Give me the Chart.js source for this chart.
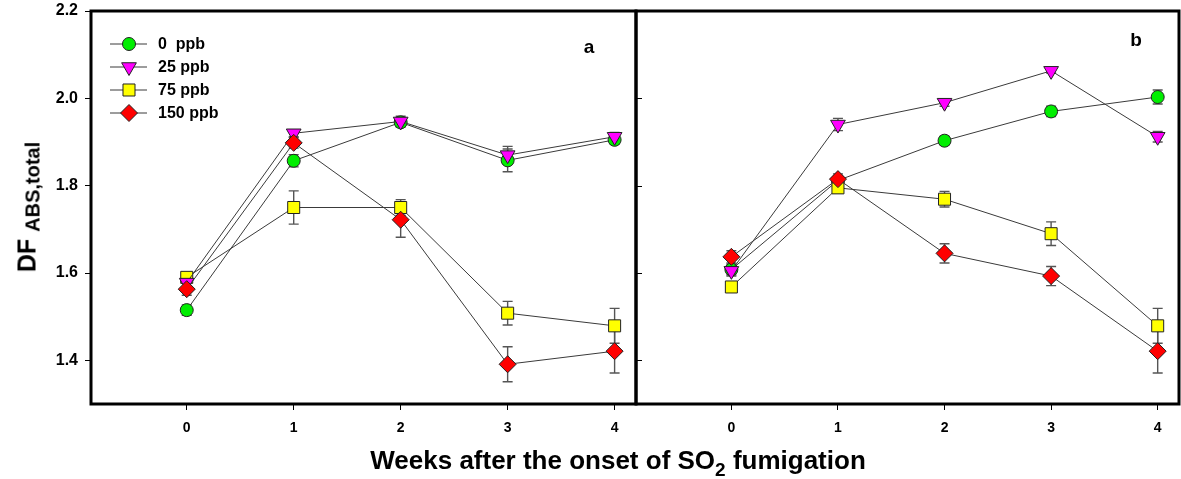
<!DOCTYPE html>
<html><head><meta charset="utf-8">
<script src="https://cdn.jsdelivr.net/npm/chart.js@4.4.1/dist/chart.umd.min.js"></script>
<style>
html,body{margin:0;padding:0;background:#fff;}
#wrap{position:relative;width:1181px;height:479px;overflow:hidden;font-family:'Liberation Sans',Arial,sans-serif;font-weight:bold;color:#000;}
.pane{position:absolute;top:0;height:479px;}
#pa{left:0;width:640px;}
#pb{left:630px;width:551px;}
#xt{position:absolute;left:618px;top:445px;transform:translateX(-50%);font-size:26px;white-space:nowrap;}
#xt sub{font-size:19px;vertical-align:-7px;line-height:0;}
#yt{position:absolute;left:27px;top:207px;transform:translate(-50%,-50%) rotate(-90deg);white-space:nowrap;font-size:25px;}
#yt sub{font-size:20px;vertical-align:-4px;line-height:0;}
</style></head>
<body>
<div id="wrap">
  <div class="pane" id="pa"><canvas id="ca"></canvas></div>
  <div class="pane" id="pb"><canvas id="cb"></canvas></div>
  <div id="xt">Weeks after the onset of SO<sub>2</sub> fumigation</div>
  <div id="yt">DF <sub>ABS,total</sub></div>
</div>
<script>
// ---- data ----
const weeks = [0, 1, 2, 3, 4];
const seriesNames = ['0  ppb', '25 ppb', '75 ppb', '150 ppb'];
const yTickValues = [1.4, 1.6, 1.8, 2.0, 2.2];

// panel a
const a_0ppb      = [1.515, 1.857, 1.945, 1.858, 1.905];
const a_0ppb_err  = [0.012, 0.014, 0.010, 0.026, 0.010];
const a_25ppb     = [1.578, 1.920, 1.947, 1.870, 1.912];
const a_25ppb_err = [0.010, 0.008, 0.012, 0.020, 0.010];
const a_75ppb     = [1.590, 1.750, 1.750, 1.508, 1.479];
const a_75ppb_err = [0.010, 0.038, 0.018, 0.027, 0.040];
const a_150ppb    = [1.563, 1.898, 1.722, 1.391, 1.421];
const a_150ppb_err= [0.014, 0.012, 0.040, 0.040, 0.050];

// panel b
const b_0ppb      = [1.608, 1.812, 1.903, 1.970, 2.003];
const b_0ppb_err  = [0.012, 0.010, 0.010, 0.012, 0.016];
const b_25ppb     = [1.605, 1.940, 1.990, 2.063, 1.912];
const b_25ppb_err = [0.012, 0.014, 0.008, 0.005, 0.012];
const b_75ppb     = [1.568, 1.795, 1.769, 1.690, 1.479];
const b_75ppb_err = [0.005, 0.012, 0.018, 0.027, 0.040];
const b_150ppb    = [1.637, 1.815, 1.645, 1.593, 1.421];
const b_150ppb_err= [0.014, 0.012, 0.022, 0.022, 0.050];

// ---- styles ----
const FONT = "'Liberation Sans', Arial, sans-serif";
const styles = [
  {bg:'#00ee00', style:'circle',   radius:6.5, rot:0,   order:3},
  {bg:'#ff00ff', style:'triangle', radius:8.5, rot:180, order:1},
  {bg:'#ffff00', style:'rect',     radius:8.5, rot:0,   order:2},
  {bg:'#ff0000', style:'rectRot',  radius:8.5, rot:0,   order:0}
];

function makeDatasets(vals, errs){
  return vals.map((v, i) => ({
    label: seriesNames[i],
    data: weeks.map((w, j) => ({x: w, y: v[j]})),
    errors: errs[i],
    borderColor: '#3a3a3a',
    borderWidth: 1,
    backgroundColor: styles[i].bg,
    pointBackgroundColor: styles[i].bg,
    pointBorderColor: '#222',
    pointBorderWidth: 1,
    pointStyle: styles[i].style,
    pointRadius: styles[i].radius,
    pointRotation: styles[i].rot,
    order: styles[i].order,
    tension: 0,
    fill: false,
    clip: false
  }));
}

const errorBars = {
  id: 'errorBars',
  beforeDatasetsDraw(chart){
    const ctx = chart.ctx, xs = chart.scales.x, ys = chart.scales.y;
    ctx.save();
    ctx.strokeStyle = '#555';
    ctx.lineWidth = 1.4;
    chart.data.datasets.forEach(ds => {
      ds.data.forEach((p, j) => {
        const e = ds.errors[j];
        if (!e) return;
        const px = xs.getPixelForValue(p.x);
        const yt = ys.getPixelForValue(p.y + e), yb = ys.getPixelForValue(p.y - e);
        ctx.beginPath();
        ctx.moveTo(px, yt); ctx.lineTo(px, yb);
        ctx.moveTo(px - 5, yt); ctx.lineTo(px + 5, yt);
        ctx.moveTo(px - 5, yb); ctx.lineTo(px + 5, yb);
        ctx.stroke();
      });
    });
    ctx.restore();
  }
};

const frame = {
  id: 'frame',
  afterDraw(chart, args, opts){
    const ctx = chart.ctx, a = chart.chartArea;
    ctx.save();
    ctx.strokeStyle = '#000';
    ctx.lineWidth = 3;
    ctx.strokeRect(a.left, a.top, a.right - a.left, a.bottom - a.top);
    if (opts.innerTicks) {
      ctx.lineWidth = 1;
      const ys = chart.scales.y;
      yTickValues.forEach(v => {
        const py = Math.round(ys.getPixelForValue(v)) + 0.5;
        ctx.beginPath(); ctx.moveTo(a.left, py); ctx.lineTo(a.left + 6, py); ctx.stroke();
      });
    }
    ctx.fillStyle = '#000';
    ctx.font = 'bold 19px ' + FONT;
    ctx.textAlign = 'center';
    ctx.textBaseline = 'middle';
    ctx.fillText(opts.label, a.right + opts.labelDx, a.top + opts.labelDy);
    ctx.restore();
  }
};

const legendBox = {
  id: 'legendBox',
  afterDraw(chart, args, opts){
    if (!opts.show) return;
    const ctx = chart.ctx, a = chart.chartArea;
    ctx.save();
    chart.data.datasets.forEach((ds, i) => {
      const y = a.top + 33 + i * 23;
      const x0 = a.left + 19, x1 = a.left + 56, xm = a.left + 38;
      ctx.strokeStyle = '#3a3a3a'; ctx.lineWidth = 1;
      ctx.beginPath(); ctx.moveTo(x0, y); ctx.lineTo(x1, y); ctx.stroke();
      ctx.fillStyle = ds.pointBackgroundColor; ctx.strokeStyle = '#222'; ctx.lineWidth = 1;
      Chart.helpers.drawPoint(ctx, {pointStyle: ds.pointStyle, radius: ds.pointRadius, rotation: ds.pointRotation, borderWidth: 1}, xm, y);
      ctx.fillStyle = '#000';
      ctx.font = 'bold 16px ' + FONT;
      ctx.textAlign = 'left'; ctx.textBaseline = 'middle';
      ctx.fillText(ds.label, a.left + 67, y + 1);
    });
    ctx.restore();
  }
};

function makeChart(id, vals, errs, isA){
  const yScale = {
    type: 'linear', min: 1.3, max: 2.2,
    afterBuildTicks: s => { s.ticks = yTickValues.map(v => ({value: v})); },
    afterFit: s => { if (isA) s.width = 91; s.paddingTop = 0; s.paddingBottom = 0; },
    display: isA,
    grid: {drawOnChartArea: false, drawTicks: true, tickLength: 6, color: '#000', lineWidth: 1},
    border: {display: false},
    ticks: {color: '#000', padding: 7, font: {family: FONT, size: 16, weight: 'bold'}, callback: v => v.toFixed(1)}
  };
  return new Chart(document.getElementById(id), {
    type: 'line',
    data: {datasets: makeDatasets(vals, errs)},
    options: {
      responsive: true, maintainAspectRatio: false, animation: false,
      layout: {autoPadding: false, padding: {top: 11, right: isA ? 4 : 2, left: isA ? 0 : 6, bottom: 0}},
      plugins: {
        legend: {display: false}, tooltip: {enabled: false},
        frame: {innerTicks: !isA, label: isA ? 'a' : 'b', labelDx: isA ? -47 : -43, labelDy: isA ? 37 : 30},
        legendBox: {show: isA}
      },
      scales: {
        x: {
          type: 'linear', min: -0.895, max: 4.2,
          afterBuildTicks: s => { s.ticks = weeks.map(v => ({value: v})); },
          afterFit: s => { s.height = 75; s.paddingLeft = 0; s.paddingRight = 0; },
          grid: {drawOnChartArea: false, drawTicks: true, tickLength: 6, color: '#000', lineWidth: 1},
          border: {display: false},
          ticks: {color: '#000', padding: 10, maxRotation: 0, font: {family: FONT, size: 14, weight: 'bold'}, callback: v => String(v)}
        },
        y: yScale
      }
    },
    plugins: [errorBars, frame, legendBox]
  });
}

makeChart('ca', [a_0ppb, a_25ppb, a_75ppb, a_150ppb], [a_0ppb_err, a_25ppb_err, a_75ppb_err, a_150ppb_err], true);
makeChart('cb', [b_0ppb, b_25ppb, b_75ppb, b_150ppb], [b_0ppb_err, b_25ppb_err, b_75ppb_err, b_150ppb_err], false);
</script>
</body></html>
